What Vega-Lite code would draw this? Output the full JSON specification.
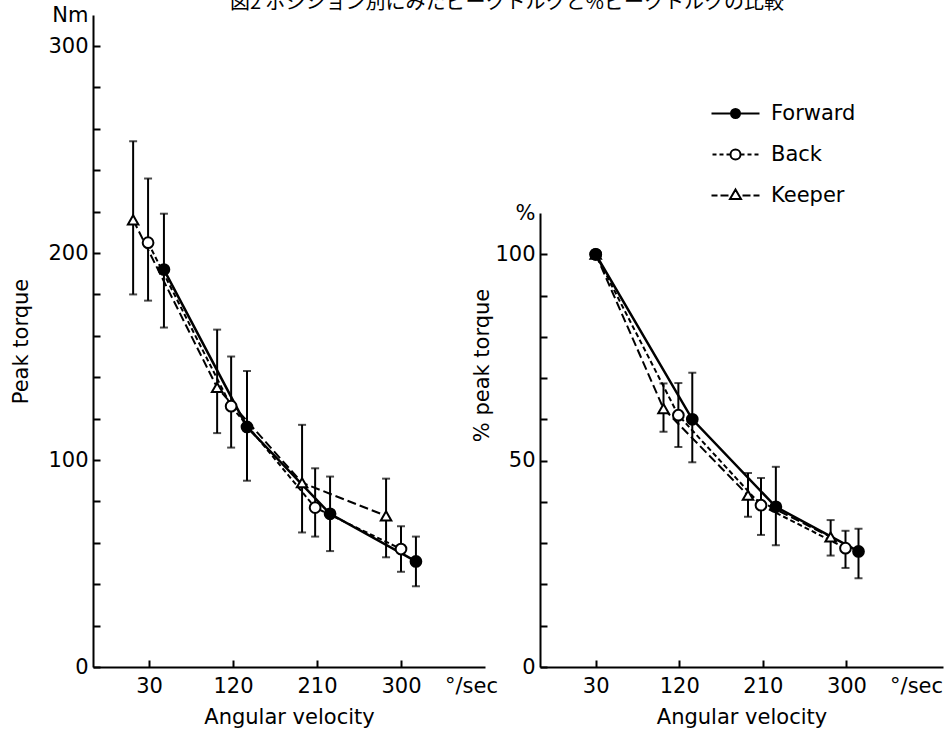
{
  "$schema": "https://vega.github.io/schema/vega-lite/v6.json",
  "background": "white",
  "padding": {"left": 10, "top": -7, "right": 3, "bottom": 5},
  "title": {"text": "図2 ポジション別にみたピークトルクと%ピークトルクの比較", "font": "Noto Sans CJK JP", "fontSize": 20, "fontWeight": "normal", "anchor": "middle", "offset": -9, "dx": 30, "color": "black"},
  "datasets": {
    "torque": [
      {"panel": "peak", "pos": "Keeper", "v": 13, "y": 216, "lo": 180, "hi": 254},
      {"panel": "peak", "pos": "Keeper", "v": 103, "y": 135, "lo": 113, "hi": 163},
      {"panel": "peak", "pos": "Keeper", "v": 194, "y": 89, "lo": 65, "hi": 117},
      {"panel": "peak", "pos": "Keeper", "v": 284, "y": 73, "lo": 53, "hi": 91},
      {"panel": "peak", "pos": "Back", "v": 29, "y": 205, "lo": 177, "hi": 236},
      {"panel": "peak", "pos": "Back", "v": 118, "y": 126, "lo": 106, "hi": 150},
      {"panel": "peak", "pos": "Back", "v": 208, "y": 77, "lo": 63, "hi": 96},
      {"panel": "peak", "pos": "Back", "v": 300, "y": 57, "lo": 46, "hi": 68},
      {"panel": "peak", "pos": "Forward", "v": 46, "y": 192, "lo": 164, "hi": 219},
      {"panel": "peak", "pos": "Forward", "v": 135, "y": 116, "lo": 90, "hi": 143},
      {"panel": "peak", "pos": "Forward", "v": 224, "y": 74, "lo": 56, "hi": 92},
      {"panel": "peak", "pos": "Forward", "v": 316, "y": 51, "lo": 39, "hi": 63},
      {"panel": "pct", "pos": "Keeper", "v": 30, "y": 100, "lo": null, "hi": null},
      {"panel": "pct", "pos": "Keeper", "v": 103, "y": 62.6, "lo": 57, "hi": 68.7},
      {"panel": "pct", "pos": "Keeper", "v": 194, "y": 41.6, "lo": 36.4, "hi": 47},
      {"panel": "pct", "pos": "Keeper", "v": 283, "y": 31.5, "lo": 27, "hi": 35.6},
      {"panel": "pct", "pos": "Back", "v": 30, "y": 100, "lo": null, "hi": null},
      {"panel": "pct", "pos": "Back", "v": 119, "y": 61, "lo": 53.3, "hi": 68.8},
      {"panel": "pct", "pos": "Back", "v": 208, "y": 39.2, "lo": 32, "hi": 45.8},
      {"panel": "pct", "pos": "Back", "v": 299, "y": 28.8, "lo": 24, "hi": 33},
      {"panel": "pct", "pos": "Forward", "v": 30, "y": 100, "lo": null, "hi": null},
      {"panel": "pct", "pos": "Forward", "v": 134, "y": 60, "lo": 49.6, "hi": 71.3},
      {"panel": "pct", "pos": "Forward", "v": 224, "y": 38.8, "lo": 29.5, "hi": 48.5},
      {"panel": "pct", "pos": "Forward", "v": 313, "y": 28, "lo": 21.5, "hi": 33.5}
    ]
  },
  "bounds": "flush",
  "spacing": 55,
  "resolve": {
    "scale": {"x": "independent", "y": "independent", "shape": "independent"},
    "legend": {"shape": "independent"}
  },
  "hconcat": [
    {
      "width": 392,
      "height": 652,
      "data": {"name": "torque"},
      "transform": [{"filter": "datum.panel == 'peak'"}],
      "encoding": {
        "x": {"field": "v", "type": "quantitative", "scale": {"domain": [-30, 390], "nice": false, "zero": false},
          "axis": {"title": "Angular velocity", "values": [30, 120, 210, 300, 375], "labelExpr": "datum.value == 375 ? '°/sec' : datum.label", "tickSize": -7, "labelPadding": 15, "titlePadding": 10, "tickColor": {"condition": {"test": "datum.value == 375", "value": "transparent"}, "value": "black"}}},
        "y": {"field": "y", "type": "quantitative", "scale": {"domain": [0, 315], "nice": false},
          "axis": {"title": "Peak torque", "values": [0, 20, 40, 60, 80, 100, 120, 140, 160, 180, 200, 220, 240, 260, 280, 300, 315], "labelExpr": "datum.value == 315 ? 'Nm' : (datum.value % 100 == 0 ? datum.label : '')", "tickSize": -7, "labelPadding": 12, "titlePadding": 16, "tickColor": {"condition": {"test": "datum.value == 315", "value": "transparent"}, "value": "black"}}}
      },
      "layer": [
        {
          "mark": {"type": "rule", "color": "black", "strokeWidth": 2},
          "encoding": {
            "y": {"field": "lo", "type": "quantitative", "scale": {"domain": [0, 315], "nice": false},
              "axis": {"title": "Peak torque", "values": [0, 20, 40, 60, 80, 100, 120, 140, 160, 180, 200, 220, 240, 260, 280, 300, 315], "labelExpr": "datum.value == 315 ? 'Nm' : (datum.value % 100 == 0 ? datum.label : '')", "tickSize": -7, "labelPadding": 12, "titlePadding": 16, "tickColor": {"condition": {"test": "datum.value == 315", "value": "transparent"}, "value": "black"}}},
            "y2": {"field": "hi"}
          }
        },
        {
          "mark": {"type": "tick", "orient": "horizontal", "color": "black", "size": 8, "thickness": 2},
          "encoding": {"y": {"field": "lo", "type": "quantitative", "scale": {"domain": [0, 315], "nice": false},
              "axis": {"title": "Peak torque", "values": [0, 20, 40, 60, 80, 100, 120, 140, 160, 180, 200, 220, 240, 260, 280, 300, 315], "labelExpr": "datum.value == 315 ? 'Nm' : (datum.value % 100 == 0 ? datum.label : '')", "tickSize": -7, "labelPadding": 12, "titlePadding": 16, "tickColor": {"condition": {"test": "datum.value == 315", "value": "transparent"}, "value": "black"}}}}
        },
        {
          "mark": {"type": "tick", "orient": "horizontal", "color": "black", "size": 8, "thickness": 2},
          "encoding": {"y": {"field": "hi", "type": "quantitative", "scale": {"domain": [0, 315], "nice": false},
              "axis": {"title": "Peak torque", "values": [0, 20, 40, 60, 80, 100, 120, 140, 160, 180, 200, 220, 240, 260, 280, 300, 315], "labelExpr": "datum.value == 315 ? 'Nm' : (datum.value % 100 == 0 ? datum.label : '')", "tickSize": -7, "labelPadding": 12, "titlePadding": 16, "tickColor": {"condition": {"test": "datum.value == 315", "value": "transparent"}, "value": "black"}}}}
        },
        {"transform": [{"filter": "datum.pos == 'Keeper'"}], "mark": {"type": "line", "color": "black", "strokeWidth": 2, "strokeDash": [9, 4]}},
        {"transform": [{"filter": "datum.pos == 'Back'"}], "mark": {"type": "line", "color": "black", "strokeWidth": 2, "strokeDash": [5, 3]}},
        {"transform": [{"filter": "datum.pos == 'Forward'"}], "mark": {"type": "line", "color": "black", "strokeWidth": 2.5}},
        {"transform": [{"filter": "datum.pos == 'Keeper'"}], "mark": {"type": "point", "shape": "triangle-up", "size": 110, "filled": true, "fill": "white", "stroke": "black", "strokeWidth": 2, "opacity": 1}},
        {"transform": [{"filter": "datum.pos == 'Back'"}], "mark": {"type": "point", "shape": "circle", "size": 115, "filled": true, "fill": "white", "stroke": "black", "strokeWidth": 2, "opacity": 1}},
        {"transform": [{"filter": "datum.pos == 'Forward'"}], "mark": {"type": "point", "shape": "circle", "size": 115, "filled": true, "fill": "black", "stroke": "black", "strokeWidth": 2, "opacity": 1}}
      ]
    },
    {
      "width": 403,
      "height": 652,
      "data": {"name": "torque"},
      "transform": [{"filter": "datum.panel == 'pct'"}],
      "encoding": {
        "x": {"field": "v", "type": "quantitative", "scale": {"domain": [-30, 404], "nice": false, "zero": false},
          "axis": {"title": "Angular velocity", "values": [30, 120, 210, 300, 375], "labelExpr": "datum.value == 375 ? '°/sec' : datum.label", "tickSize": -7, "labelPadding": 15, "titlePadding": 10, "tickColor": {"condition": {"test": "datum.value == 375", "value": "transparent"}, "value": "black"}}},
        "y": {"field": "y", "type": "quantitative", "scale": {"domain": [0, 110], "range": [652, 198], "nice": false},
          "axis": {"title": "% peak torque", "titleY": 350, "values": [0, 10, 20, 30, 40, 50, 60, 70, 80, 90, 100, 110], "labelExpr": "datum.value == 110 ? '%' : (datum.value % 50 == 0 ? datum.label : '')", "tickSize": -7, "labelPadding": 12, "titlePadding": 2, "tickColor": {"condition": {"test": "datum.value == 110", "value": "transparent"}, "value": "black"}}}
      },
      "layer": [
        {
          "mark": {"type": "rule", "color": "black", "strokeWidth": 2},
          "encoding": {
            "y": {"field": "lo", "type": "quantitative", "scale": {"domain": [0, 110], "range": [652, 198], "nice": false},
              "axis": {"title": "% peak torque", "titleY": 350, "values": [0, 10, 20, 30, 40, 50, 60, 70, 80, 90, 100, 110], "labelExpr": "datum.value == 110 ? '%' : (datum.value % 50 == 0 ? datum.label : '')", "tickSize": -7, "labelPadding": 12, "titlePadding": 2, "tickColor": {"condition": {"test": "datum.value == 110", "value": "transparent"}, "value": "black"}}},
            "y2": {"field": "hi"}
          }
        },
        {
          "mark": {"type": "tick", "orient": "horizontal", "color": "black", "size": 8, "thickness": 2},
          "encoding": {"y": {"field": "lo", "type": "quantitative", "scale": {"domain": [0, 110], "range": [652, 198], "nice": false},
              "axis": {"title": "% peak torque", "titleY": 350, "values": [0, 10, 20, 30, 40, 50, 60, 70, 80, 90, 100, 110], "labelExpr": "datum.value == 110 ? '%' : (datum.value % 50 == 0 ? datum.label : '')", "tickSize": -7, "labelPadding": 12, "titlePadding": 2, "tickColor": {"condition": {"test": "datum.value == 110", "value": "transparent"}, "value": "black"}}}}
        },
        {
          "mark": {"type": "tick", "orient": "horizontal", "color": "black", "size": 8, "thickness": 2},
          "encoding": {"y": {"field": "hi", "type": "quantitative", "scale": {"domain": [0, 110], "range": [652, 198], "nice": false},
              "axis": {"title": "% peak torque", "titleY": 350, "values": [0, 10, 20, 30, 40, 50, 60, 70, 80, 90, 100, 110], "labelExpr": "datum.value == 110 ? '%' : (datum.value % 50 == 0 ? datum.label : '')", "tickSize": -7, "labelPadding": 12, "titlePadding": 2, "tickColor": {"condition": {"test": "datum.value == 110", "value": "transparent"}, "value": "black"}}}}
        },
        {"transform": [{"filter": "datum.pos == 'Keeper'"}], "mark": {"type": "line", "color": "black", "strokeWidth": 2, "strokeDash": [9, 4]}},
        {"transform": [{"filter": "datum.pos == 'Back'"}], "mark": {"type": "line", "color": "black", "strokeWidth": 2, "strokeDash": [5, 3]}},
        {"transform": [{"filter": "datum.pos == 'Forward'"}], "mark": {"type": "line", "color": "black", "strokeWidth": 2.5}},
        {"transform": [{"filter": "datum.pos == 'Keeper'"}], "mark": {"type": "point", "shape": "triangle-up", "size": 110, "filled": true, "fill": "white", "stroke": "black", "strokeWidth": 2, "opacity": 1}},
        {"transform": [{"filter": "datum.pos == 'Back'"}], "mark": {"type": "point", "shape": "circle", "size": 115, "filled": true, "fill": "white", "stroke": "black", "strokeWidth": 2, "opacity": 1}},
        {"transform": [{"filter": "datum.pos == 'Forward'"}], "mark": {"type": "point", "shape": "circle", "size": 115, "filled": true, "fill": "black", "stroke": "black", "strokeWidth": 2, "opacity": 1}},
        {
          "transform": [{"filter": "datum.v == 30"}],
          "mark": {"type": "point", "filled": false, "color": "black", "stroke": "black", "strokeWidth": 2},
          "encoding": {
            "y": {"field": "lo", "type": "quantitative", "scale": {"domain": [0, 110], "range": [652, 198], "nice": false},
              "axis": {"title": "% peak torque", "titleY": 350, "values": [0, 10, 20, 30, 40, 50, 60, 70, 80, 90, 100, 110], "labelExpr": "datum.value == 110 ? '%' : (datum.value % 50 == 0 ? datum.label : '')", "tickSize": -7, "labelPadding": 12, "titlePadding": 2, "tickColor": {"condition": {"test": "datum.value == 110", "value": "transparent"}, "value": "black"}}},
            "shape": {"field": "pos", "type": "nominal",
              "scale": {"domain": ["Forward", "Back", "Keeper"], "range": [
                "M-4.8,0L-1,0M1,0L4.8,0M0.9,0A0.9,0.9,0,1,1,-0.9,0A0.9,0.9,0,1,1,0.9,0M0.5,0A0.5,0.5,0,1,1,-0.5,0A0.5,0.5,0,1,1,0.5,0M0.2,0A0.2,0.2,0,1,1,-0.2,0A0.2,0.2,0,1,1,0.2,0",
                "M-4.6,0L-3.8,0M-3.2,0L-2.4,0M-1.8,0L-1,0M1,0L1.8,0M2.4,0L3.2,0M3.8,0L4.6,0M1,0A1,1,0,1,1,-1,0A1,1,0,1,1,1,0",
                "M-4.8,0L-3.6,0M-3.0,0L-1.4,0M1.4,0L3.0,0M3.6,0L4.8,0M0,-1.2L1.1,0.7L-1.1,0.7Z"]},
              "legend": {"title": null, "orient": "none", "legendX": 185, "legendY": 88, "labelFont": "DejaVu Sans", "labelFontSize": 21, "labelColor": "black", "labelOffset": 25, "symbolSize": 100, "symbolStrokeColor": "black", "symbolFillColor": "transparent", "symbolStrokeWidth": 2, "symbolOpacity": 1, "rowPadding": 19, "padding": 0}}
          }
        }
      ]
    }
  ],
  "config": {
    "view": {"stroke": null},
    "font": "DejaVu Sans",
    "axis": {"labelFont": "DejaVu Sans", "labelFontSize": 21, "labelColor": "black", "titleFont": "DejaVu Sans", "titleFontSize": 21, "titleFontWeight": "normal", "titleColor": "black", "domainColor": "black", "domainWidth": 2, "tickWidth": 2, "grid": false, "labelFlush": false, "labelOverlap": false}
  }
}
